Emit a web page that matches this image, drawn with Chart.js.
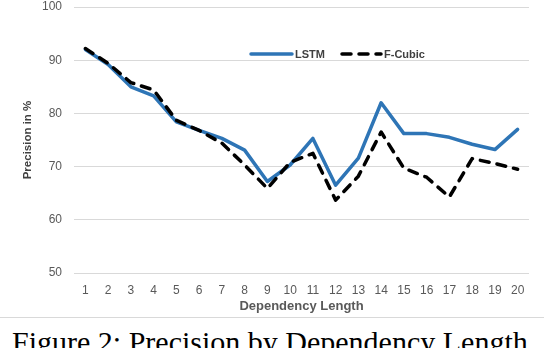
<!DOCTYPE html>
<html>
<head>
<meta charset="utf-8">
<script src="https://cdn.jsdelivr.net/npm/chart.js@4/dist/chart.umd.min.js"></script>
<style>
  html, body { margin: 0; padding: 0; background: #fff; }
  #wrap { position: relative; width: 544px; height: 348px; overflow: hidden; }
  #chartBox { position: absolute; left: 0; top: 0; width: 544px; height: 316px; }
  #rule { position: absolute; left: 0; top: 317px; width: 544px; height: 1px; background: #d9d9d9; }
  #caption { position: absolute; left: 12px; top: 327px; font-family: "Liberation Serif", "Times New Roman", serif;
             font-size: 30px; line-height: 30px; color: #000; white-space: nowrap; }
</style>
</head>
<body>
<div id="wrap">
  <div id="chartBox"><canvas id="c"></canvas></div>
  <div id="rule"></div>
  <div id="caption">Figure 2: Precision by Dependency Length</div>
</div>
<script>
const categories = ["1","2","3","4","5","6","7","8","9","10","11","12","13","14","15","16","17","18","19","20"];
const lstm   = [92, 89.2, 85, 83.3, 78.4, 76.8, 75.3, 73.1, 67.2, 70.3, 75.3, 66.5, 71.6, 82, 76.2, 76.2, 75.5, 74.2, 73.2, 77];
const fcubic = [92.2, 89.4, 85.8, 84.4, 78.7, 76.8, 74.4, 70.3, 65.9, 70.8, 72.5, 63.7, 68.2, 76.5, 69.7, 68, 64.3, 71.5, 70.6, 69.5];
const yTicks = [50, 60, 70, 80, 90, 100];
const seriesNames = ["LSTM", "F-Cubic"];

const BLUE = "#2e75b6";
const BLACK = "#000000";
const GRID = "#d9d9d9";
const TXT = "#595959";

const legendPlugin = {
  id: "insideLegend",
  afterDraw(chart) {
    const ctx = chart.ctx;
    const y = 54;
    ctx.save();
    ctx.lineCap = "round";
    ctx.strokeStyle = BLUE; ctx.lineWidth = 3.5; ctx.setLineDash([]);
    ctx.beginPath(); ctx.moveTo(251, y); ctx.lineTo(292, y); ctx.stroke();
    ctx.font = 'bold 11px "Liberation Sans Narrow", "Liberation Sans", Arial, sans-serif';
    ctx.fillStyle = "#404040"; ctx.textBaseline = "middle"; ctx.textAlign = "left";
    ctx.fillText(seriesNames[0], 295, y + 0.5);
    ctx.strokeStyle = BLACK; ctx.lineWidth = 3.5; ctx.setLineDash([9, 8]);
    ctx.beginPath(); ctx.moveTo(342, y); ctx.lineTo(381, y); ctx.stroke();
    ctx.setLineDash([]);
    ctx.fillText(seriesNames[1], 384, y + 0.5);
    ctx.restore();
  }
};

new Chart(document.getElementById("c"), {
  type: "line",
  data: {
    labels: categories,
    datasets: [
      { label: seriesNames[0], data: lstm, borderColor: BLUE, backgroundColor: BLUE, borderWidth: 3.5,
        pointRadius: 0, tension: 0, borderJoinStyle: "round", borderCapStyle: "round", order: 2 },
      { label: seriesNames[1], data: fcubic, borderColor: BLACK, backgroundColor: BLACK, borderWidth: 3.5,
        borderDash: [9, 8], pointRadius: 0, tension: 0, borderJoinStyle: "round", borderCapStyle: "round", order: 1 }
    ]
  },
  options: {
    responsive: true,
    maintainAspectRatio: false,
    animation: false,
    layout: { padding: { left: 16, right: 15, top: 7, bottom: 2 } },
    plugins: { legend: { display: false }, tooltip: { enabled: false } },
    scales: {
      x: {
        offset: true,
        afterFit(scale) { scale.height = 41; scale.paddingLeft = 0; scale.paddingRight = 0; },
        grid: { display: false, drawTicks: false },
        border: { display: false },
        ticks: { color: TXT, font: { family: '"Liberation Sans", Arial, sans-serif', size: 12 }, padding: 10, maxRotation: 0, autoSkip: false },
        title: { display: true, text: "Dependency Length", color: TXT,
                 font: { family: '"Liberation Sans", Arial, sans-serif', size: 13, weight: "bold" }, padding: { top: 2, bottom: 0 } }
      },
      y: {
        min: 50, max: 100,
        afterBuildTicks(scale) { scale.ticks = yTicks.map(v => ({ value: v })); },
        afterFit(scale) { scale.width = 58; scale.paddingTop = 0; scale.paddingBottom = 0; },
        grid: { color: GRID, lineWidth: 1, drawTicks: false },
        border: { display: false },
        ticks: { color: TXT, font: { family: '"Liberation Sans", Arial, sans-serif', size: 12 }, padding: 12 },
        title: { display: true, text: "Precision in %", color: "#404040",
                 font: { family: '"Liberation Sans", Arial, sans-serif', size: 11.5, weight: "bold" }, padding: { top: 5, bottom: 0 } }
      }
    }
  },
  plugins: [legendPlugin]
});
</script>
</body>
</html>
